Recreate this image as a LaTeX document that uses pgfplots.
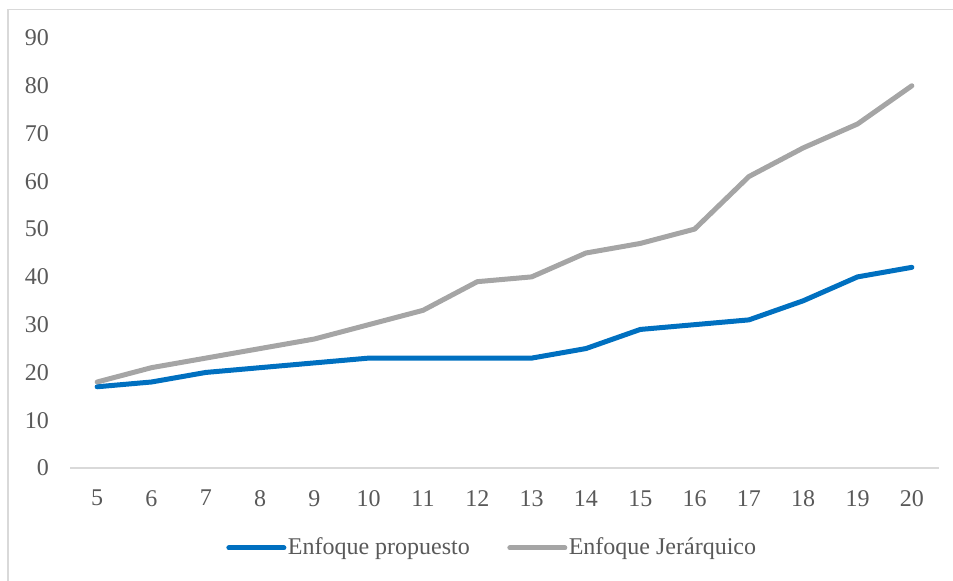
\documentclass[border=0pt]{standalone}
\usepackage{fontspec}
\setmainfont{Liberation Serif}
\usepackage{pgfplots}
\pgfplotsset{compat=1.18}

\definecolor{serieA}{HTML}{0070C0}
\definecolor{serieB}{HTML}{A5A5A5}
\definecolor{textgray}{HTML}{595959}
\definecolor{rulegray}{HTML}{D9D9D9}

\begin{document}
\fontsize{24bp}{29bp}\selectfont
\begin{tikzpicture}
\useasboundingbox (0,0) rectangle (953bp,581bp);
% chart frame (top and left edges)
\draw[rulegray, line width=1.5bp] (8bp,0bp) -- (8bp,571.5bp) -- (953bp,571.5bp);
\begin{axis}[
  at={(70bp,113bp)}, anchor=south west,
  scale only axis,
  width=869bp, height=430bp,
  xmin=4.5, xmax=20.5,
  ymin=0, ymax=90,
  xtick={5,...,20},
  ytick={0,10,...,90},
  axis line style={draw=none},
  tick style={draw=none},
  /pgf/number format/assume math mode=true,
  ticklabel style={font=\fontsize{24bp}{29bp}\selectfont, text=textgray},
  xticklabel style={yshift=-14bp},
  yticklabel style={xshift=-13bp},
  clip=false,
  legend columns=2,
  legend style={
    at={(0.4856,-0.186)}, anchor=center,
    draw=none, fill=none,
    font=\fontsize{24bp}{29bp}\selectfont, text=textgray,
    /tikz/every even column/.append style={column sep=36bp},
    nodes={inner sep=1.5bp},
  },
  legend image code/.code={
    \draw[#1, line cap=round] (0bp,0bp) -- (55bp,0bp);
  },
]
% horizontal axis line at zero
\draw[rulegray, line width=1.5bp] (axis cs:4.5,0) -- (axis cs:20.5,0);

\addplot[serieA, line width=5bp, line join=round, line cap=round] coordinates {
  (5,17) (6,18) (7,20) (8,21) (9,22) (10,23) (11,23) (12,23)
  (13,23) (14,25) (15,29) (16,30) (17,31) (18,35) (19,40) (20,42)
};
\addlegendentry{Enfoque propuesto}

\addplot[serieB, line width=5bp, line join=round, line cap=round] coordinates {
  (5,18) (6,21) (7,23) (8,25) (9,27) (10,30) (11,33) (12,39)
  (13,40) (14,45) (15,47) (16,50) (17,61) (18,67) (19,72) (20,80)
};
\addlegendentry{Enfoque Jerárquico}
\end{axis}
\end{tikzpicture}
\end{document}
